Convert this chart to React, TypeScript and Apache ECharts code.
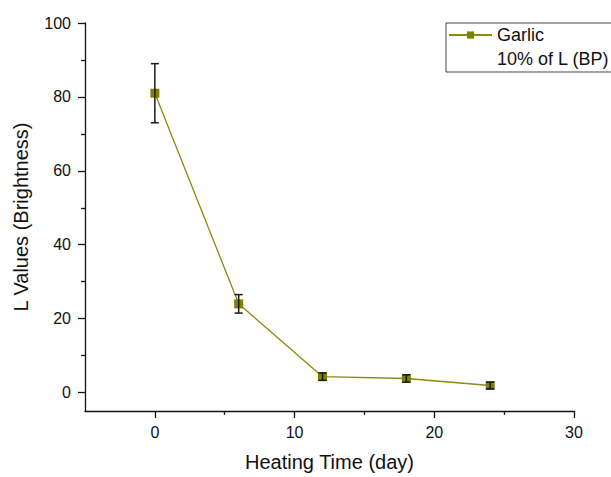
import React, { useEffect, useRef } from "react";
import * as echarts from "echarts";

const heatingDays = [0, 6, 12, 18, 24];
const lValues = [81, 24, 4.3, 3.8, 1.9];
const lErrors = [8, 2.5, 1, 1, 0.9];
const xMajorTicks = [0, 10, 20, 30];
const xMinorTicks = [5, 15, 25];
const yMajorTicks = [0, 20, 40, 60, 80, 100];
const yMinorTicks = [10, 30, 50, 70, 90];
const seriesName = "Garlic";
const seriesSubtitle = "10% of L (BP)";

const FONT = "Liberation Sans, Arial, sans-serif";
const OLIVE = "#808000";

export default function App() {
  const ref = useRef<HTMLDivElement>(null);
  useEffect(() => {
    if (!ref.current) return;
    const chart = echarts.init(ref.current, null, { renderer: "svg" });
    const pts = heatingDays.map((d, i) => [d, lValues[i]]);
    const errs = heatingDays.map((d, i) => [d, lValues[i], lErrors[i]]);
    const axisLine = { show: true, onZero: false, lineStyle: { color: "#111", width: 1.3 } };
    const tickStyle = { color: "#111", width: 1.3 };
    chart.setOption({
      animation: false,
      textStyle: { fontFamily: FONT },
      grid: { left: 85, right: 37, top: 23, bottom: 60, containLabel: false },
      legend: {
        data: [seriesName],
        left: 446,
        top: 23,
        orient: "vertical",
        padding: [3, 90, 28, 2],
        itemWidth: 43,
        itemHeight: 9,
        borderColor: "#444",
        borderWidth: 1,
        borderRadius: 0,
        textStyle: { fontFamily: FONT, fontSize: 18, color: "#111" },
      },
      xAxis: [
        {
          type: "value",
          min: -5,
          max: 30,
          name: "Heating Time (day)",
          nameLocation: "middle",
          nameGap: 41,
          nameTextStyle: { fontFamily: FONT, fontSize: 20, color: "#111" },
          axisLine,
          axisTick: { show: true, inside: false, length: 7, customValues: xMajorTicks, lineStyle: tickStyle },
          axisLabel: { show: true, margin: 13, customValues: xMajorTicks, fontFamily: FONT, fontSize: 16, color: "#111" },
          splitLine: { show: false },
        },
        {
          type: "value",
          min: -5,
          max: 30,
          position: "bottom",
          axisLine: { show: false, onZero: false },
          axisTick: { show: true, inside: false, length: 4, customValues: xMinorTicks, lineStyle: tickStyle },
          axisLabel: { show: false },
          splitLine: { show: false },
        },
      ],
      yAxis: [
        {
          type: "value",
          min: -5,
          max: 100,
          name: "L Values (Brightness)",
          nameLocation: "middle",
          nameGap: 54,
          nameTextStyle: { fontFamily: FONT, fontSize: 20, color: "#111" },
          axisLine,
          axisTick: { show: true, inside: false, length: 7, customValues: yMajorTicks, lineStyle: tickStyle },
          axisLabel: { show: true, margin: 14, customValues: yMajorTicks, fontFamily: FONT, fontSize: 16, color: "#111" },
          splitLine: { show: false },
        },
        {
          type: "value",
          min: -5,
          max: 100,
          position: "left",
          axisLine: { show: false, onZero: false },
          axisTick: { show: true, inside: false, length: 4, customValues: yMinorTicks, lineStyle: tickStyle },
          axisLabel: { show: false },
          splitLine: { show: false },
        },
      ],
      graphic: [
        {
          type: "text",
          left: 497,
          top: 50,
          style: { text: seriesSubtitle, fontFamily: FONT, fontSize: 18, fill: "#111" },
        },
      ],
      series: [
        {
          name: seriesName,
          type: "line",
          data: pts,
          xAxisIndex: 0,
          yAxisIndex: 0,
          symbol: "rect",
          symbolSize: 9,
          itemStyle: { color: OLIVE },
          lineStyle: { color: "#8a8a10", width: 1.3 },
          z: 2,
        },
        {
          name: "err",
          type: "custom",
          xAxisIndex: 0,
          yAxisIndex: 0,
          data: errs,
          z: 3,
          renderItem: (params: any, api: any) => {
            const x = api.value(0);
            const y = api.value(1);
            const e = api.value(2);
            const top = api.coord([x, y + e]);
            const bot = api.coord([x, y - e]);
            const hw = 4;
            const st = { stroke: "#1a1a1a", lineWidth: 1.5 };
            return {
              type: "group",
              children: [
                { type: "line", shape: { x1: top[0], y1: top[1], x2: bot[0], y2: bot[1] }, style: st },
                { type: "line", shape: { x1: top[0] - hw, y1: top[1], x2: top[0] + hw, y2: top[1] }, style: st },
                { type: "line", shape: { x1: bot[0] - hw, y1: bot[1], x2: bot[0] + hw, y2: bot[1] }, style: st },
              ],
            };
          },
        },
      ],
    });
    return () => chart.dispose();
  }, []);
  return <div ref={ref} style={{ position: "fixed", left: 0, top: 0, width: 611, height: 477, background: "#fff" }} />;
}
